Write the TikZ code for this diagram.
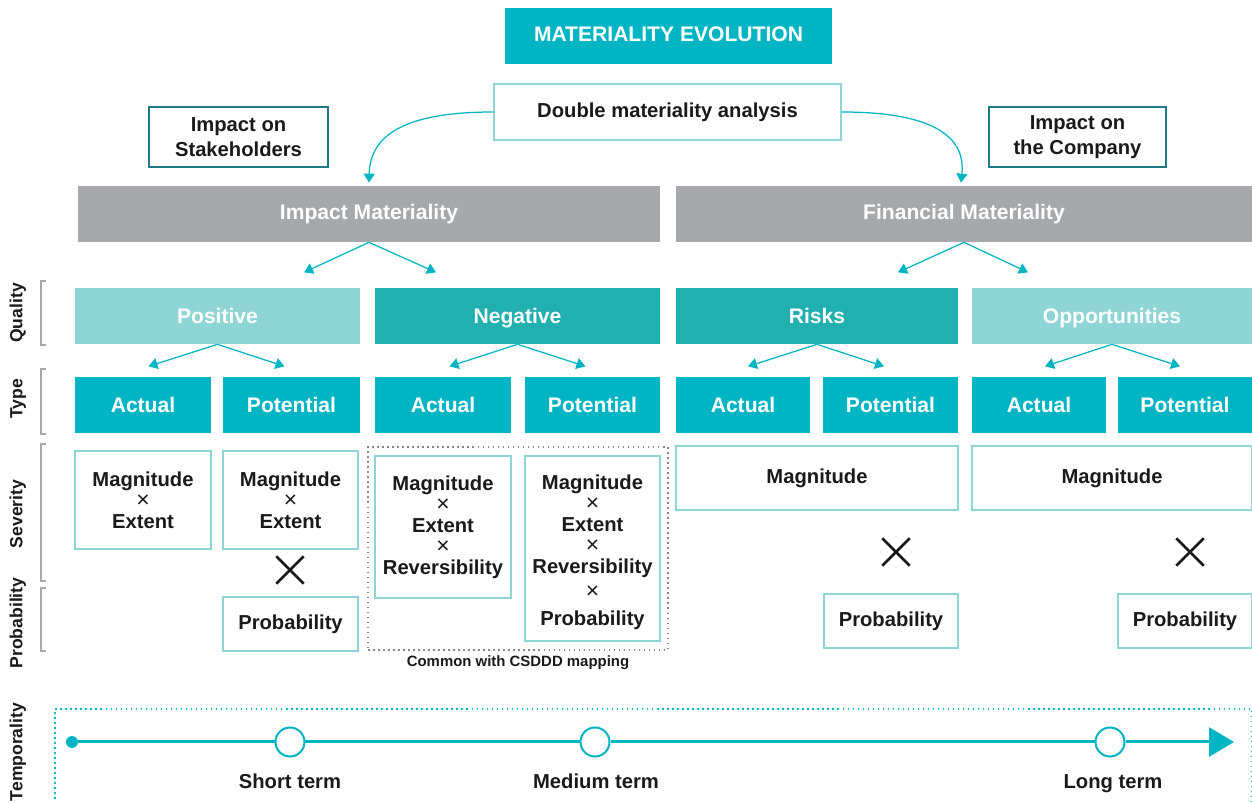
\documentclass[tikz,border=0pt]{standalone}
\usepackage{fontspec}
\setmainfont{Liberation Sans}
\usetikzlibrary{arrows.meta,shapes.misc}
\definecolor{matteal}{HTML}{00B5C3}
\definecolor{matlight}{HTML}{8FD5D5}
\definecolor{matmid}{HTML}{21AFB0}
\definecolor{matgray}{HTML}{A7A8AC}
\definecolor{matdark}{HTML}{1F7A87}
\definecolor{matink}{HTML}{1A1A1A}
\newcommand{\mtimes}{{\mdseries\fontsize{13}{12}\selectfont ×}}

\begin{document}
\begin{tikzpicture}[
  x=0.02cm, y=-0.02cm,
  >={Triangle[length=0.18cm,width=0.22cm]},
  hdr/.style={font=\bfseries\fontsize{12}{14}\selectfont, text=white, inner sep=0pt, minimum height=1.12cm, text height=8.6pt, text depth=2.4pt},
  title/.style={hdr, fill=matteal, minimum width=6.54cm},
  group/.style={hdr, fill=matgray},
  qlight/.style={hdr, fill=matlight, minimum width=5.7cm, text depth=0pt},
  qmid/.style={hdr, fill=matmid, minimum width=5.7cm, text depth=0pt},
  typebox/.style={hdr, fill=matteal, minimum width=2.72cm, text depth=0pt},
  body/.style={font=\bfseries\fontsize{11.5}{12}\selectfont, text=matink, align=center, inner sep=0pt},
  framed/.style={body, draw=matlight, line width=0.03cm, fill=white},
  outline/.style={body, draw=matdark, line width=0.04cm, fill=white, font=\bfseries\fontsize{11.5}{14.2}\selectfont},
  sidelabel/.style={font=\bfseries\fontsize{10}{12}\selectfont, text=matink, rotate=90, text height=7.2pt, text depth=2.2pt, inner sep=0pt},
  bracket/.style={draw=matgray, line width=0.04cm},
  split/.style={->, draw=matteal, line width=0.025cm},
  curve/.style={->, draw=matteal, line width=0.025cm},
  bigcross/.style={cross out, draw=matink, line width=0.05cm, minimum size=0.5cm, inner sep=0pt},
  tline/.style={draw=matteal, line width=0.06cm},
  tcirc/.style={circle, draw=matteal, fill=white, line width=0.04cm, minimum size=0.58cm, inner sep=0pt},
  tlabel/.style={font=\bfseries\fontsize{11.5}{13}\selectfont, text=matink, text height=8.3pt, text depth=0.1pt, inner sep=0pt}
]
\useasboundingbox (0,0) rectangle (1252,803);

\node[title] (evo) at (668.5,36) {MATERIALITY EVOLUTION};
\node[framed, minimum width=6.94cm, minimum height=1.12cm] (dma) at (667.5,112) {Double materiality analysis};
\node[outline, minimum width=3.58cm, minimum height=1.2cm] (stake) at (238.5,137) {Impact on\\Stakeholders};
\node[outline, minimum width=3.54cm, minimum height=1.2cm] (comp) at (1077.5,137) {Impact on\\the Company};

\node[group, minimum width=11.64cm] (impact) at (369,214) {Impact Materiality};
\node[group, minimum width=11.52cm] (fin) at (964,214) {Financial Materiality};

\node[qlight] (pos) at (217.5,316) {Positive};
\node[qmid] (neg) at (517.5,316) {Negative};
\node[qmid, minimum width=5.64cm] (risk) at (817,316) {Risks};
\node[qlight, minimum width=5.6cm] (opp) at (1112,316) {Opportunities};

\node[typebox] (posact) at (143,405) {Actual};
\node[typebox, minimum width=2.74cm] (pospot) at (291.5,405) {Potential};
\node[typebox] (negact) at (443,405) {Actual};
\node[typebox, minimum width=2.7cm] (negpot) at (592.5,405) {Potential};
\node[typebox, minimum width=2.68cm] (riskact) at (743,405) {Actual};
\node[typebox, minimum width=2.7cm] (riskpot) at (890.5,405) {Potential};
\node[typebox, minimum width=2.68cm] (oppact) at (1039,405) {Actual};
\node[typebox, minimum width=2.68cm] (opppot) at (1185,405) {Potential};

\node[draw=matgray!80!black, dotted, line width=0.03cm, minimum width=6cm, minimum height=4.06cm] (csddd) at (518,548.5) {};
\node[font=\bfseries\fontsize{8.5}{10}\selectfont, text=matink] (csdddlabel) at (518,663) {Common with CSDDD mapping};

\node[framed, minimum width=2.72cm, minimum height=1.96cm] (sev1) at (143,500) {Magnitude\\\mtimes\\Extent};
\node[framed, minimum width=2.7cm, minimum height=1.96cm] (sev2) at (290.5,500) {Magnitude\\\mtimes\\Extent};
\node[framed, minimum width=2.72cm, minimum height=2.84cm] (sev3) at (443,527) {Magnitude\\\mtimes\\Extent\\\mtimes\\Reversibility};
\node[framed, minimum width=2.7cm, minimum height=3.7cm] (sev4) at (592.5,548.5) {};
\node[body] (sev4text) at ([yshift=-0.07cm]sev4.center) {Magnitude\\\mtimes\\Extent\\\mtimes\\Reversibility\\[2.2pt]\mtimes\\[3.3pt]Probability};
\node[framed, minimum width=5.64cm, minimum height=1.28cm] (riskmag) at (817,478) {Magnitude};
\node[framed, minimum width=5.6cm, minimum height=1.28cm] (oppmag) at (1112,478) {Magnitude};

\node[bigcross] (x1) at (290,570) {};
\node[bigcross] (x2) at (896,552) {};
\node[bigcross] (x3) at (1190,552) {};

\node[framed, minimum width=2.7cm, minimum height=1.08cm] (prob1) at (290.5,624) {Probability};
\node[framed, minimum width=2.68cm, minimum height=1.08cm] (prob2) at (891,621) {Probability};
\node[framed, minimum width=2.68cm, minimum height=1.08cm] (prob3) at (1185,621) {Probability};

\node[sidelabel] (lqual) at (18,313) {Quality};
\node[sidelabel] (ltype) at (18,399) {Type};
\node[sidelabel] (lsev) at (18,514) {Severity};
\node[sidelabel] (lprob) at (18,623) {Probability};
\node[sidelabel] (ltemp) at (18,752) {Temporality};

\draw[bracket] (46,281) -- (41,281) -- (41,345) -- (46,345);
\draw[bracket] (46,369) -- (41,369) -- (41,434) -- (46,434);
\draw[bracket] (46,444) -- (41,444) -- (41,581) -- (46,581);
\draw[bracket] (46,588) -- (41,588) -- (41,651) -- (46,651);

\draw[curve] (dma.west) .. controls (405,112) and (370,135) .. ([yshift=0.06cm]impact.north);
\draw[curve] (dma.east) .. controls (930,112) and (966,135) .. ([xshift=-0.06cm, yshift=0.06cm]fin.north);

\draw[split] (impact.south) -- +(-65,30);
\draw[split] (impact.south) -- +(67,30);
\draw[split] (fin.south) -- +(-66,30);
\draw[split] (fin.south) -- +(64,30);

\draw[split] (pos.south) -- +(-69,22);
\draw[split] (pos.south) -- +(67,22);
\draw[split] (neg.south) -- +(-68,22);
\draw[split] (neg.south) -- +(68,22);
\draw[split] (risk.south) -- +(-69,22);
\draw[split] (risk.south) -- +(67,22);
\draw[split] (opp.south) -- +(-67,22);
\draw[split] (opp.south) -- +(68,22);

\node[draw=matteal, dotted, line width=0.03cm, minimum width=23.94cm, minimum height=2.2cm] (tframe) at (653.5,764) {};
\node[circle, fill=matteal, minimum size=0.24cm, inner sep=0pt] (tstart) at (72,742) {};
\node[tcirc] (tshort) at (290,742) {};
\node[tcirc] (tmed) at (595,742) {};
\node[tcirc] (tlong) at (1110,742) {};
\coordinate (tend) at (1234,742);
\draw[tline] (tstart) -- (tshort);
\draw[tline] (tshort) -- (tmed);
\draw[tline] (tmed) -- (tlong);
\draw[tline, -{Triangle[length=0.5cm,width=0.58cm]}] (tlong) -- (tend);
\node[tlabel] (lshort) at (290,781) {Short term};
\node[tlabel] (lmed) at (596,781) {Medium term};
\node[tlabel] (llong) at (1113,781) {Long term};
\end{tikzpicture}
\end{document}
